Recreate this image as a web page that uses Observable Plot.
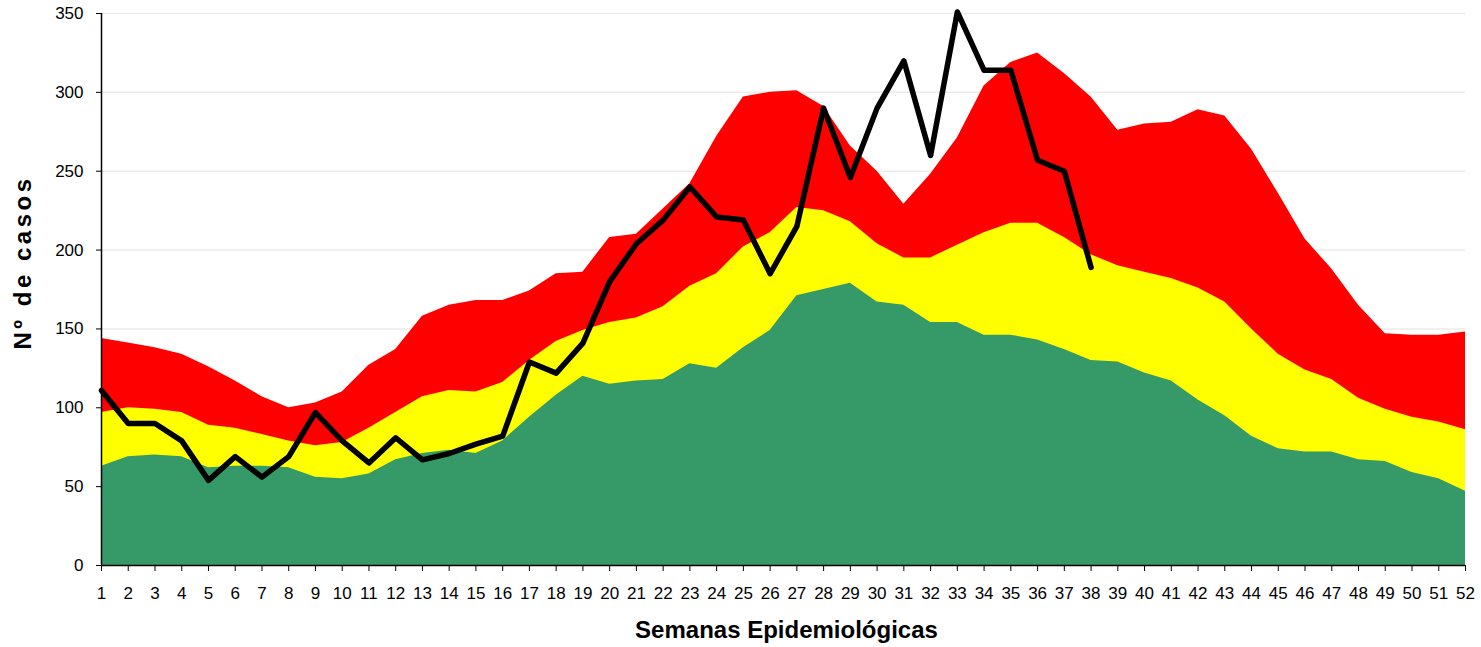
<!DOCTYPE html>
<html>
<head>
<meta charset="utf-8">
<script src="https://cdn.jsdelivr.net/npm/d3@7"></script>
<script src="https://cdn.jsdelivr.net/npm/@observablehq/plot@0.6"></script>
<style>
  html, body { margin: 0; padding: 0; background: #fff; }
  #chart { width: 1481px; height: 647px; }
</style>
</head>
<body>
<div id="chart"></div>
<script>
const semanas = d3.range(1, 53);
const zonaExito = [63,69,70,69,62,63,63,62,56,55,58,67,71,73,71,79,94,108,120,115,117,118,128,125,138,149,171,175,179,167,165,154,154,146,146,143,137,130,129,122,117,105,95,82,74,72,72,67,66,59,55,47];
const zonaSeguridad = [97,100,99,97,89,87,83,79,76,78,87,97,107,111,110,116,130,142,149,154,157,164,177,185,202,211,227,225,218,204,195,195,203,211,217,217,208,197,190,186,182,176,167,150,134,124,118,106,99,94,91,86];
const zonaAlerta = [144,141,138,134,126,117,107,100,103,110,127,137,158,165,168,168,174,185,186,208,210,226,242,272,297,300,301,291,266,250,229,248,271,304,319,325,312,297,276,280,281,289,285,264,236,207,188,165,147,146,146,148];
const casos = [111,90,90,79,54,69,56,69,97,79,65,81,67,71,77,82,129,122,141,180,204,219,240,221,219,185,215,290,246,290,320,260,351,314,314,257,250,189];
const yTicks = [0,50,100,150,200,250,300,350];

const canal = semanas.map((s, i) => ({semana: s, exito: zonaExito[i], seguridad: zonaSeguridad[i], alerta: zonaAlerta[i]}));
const actual = casos.map((c, i) => ({semana: semanas[i], casos: c}));

const font = "'Liberation Sans', Arial, sans-serif";

const chart = Plot.plot({
  width: 1481,
  height: 647,
  marginLeft: 101,
  marginRight: 16,
  marginTop: 13,
  marginBottom: 82,
  style: {fontFamily: font, fontSize: "17px", color: "#000", background: "#fff"},
  x: {domain: [1, 52], ticks: semanas},
  y: {domain: [0, 350], ticks: yTicks},
  marks: [
    Plot.gridY(yTicks.filter(d => d > 0), {stroke: "#ebebeb", strokeOpacity: 1, strokeWidth: 1.5}),
    Plot.areaY(canal, {x: "semana", y: "alerta", fill: "#ff0000"}),
    Plot.areaY(canal, {x: "semana", y: "seguridad", fill: "#ffff00"}),
    Plot.areaY(canal, {x: "semana", y: "exito", fill: "#359968"}),
    Plot.lineY(actual, {x: "semana", y: "casos", stroke: "#000", strokeWidth: 5.5, strokeLinejoin: "round", strokeLinecap: "round"}),
    Plot.ruleY([0], {stroke: "#000", strokeWidth: 1.5}),
    Plot.ruleX([1], {stroke: "#000", strokeWidth: 1.5}),
    Plot.axisX({ticks: semanas, tickSize: 6, tickPadding: 15, label: null, tickFormat: d => String(d), stroke: "#000"}),
    Plot.axisY({ticks: yTicks, tickSize: 5, tickPadding: 13, label: null, tickFormat: d => String(d), stroke: "#000"}),
    Plot.text(["Semanas Epidemiológicas"], {frameAnchor: "bottom", dx: 3, dy: 65, lineAnchor: "middle", textAnchor: "middle", fontSize: 24, fontWeight: "bold", fontFamily: font, fill: "#000"}),
    Plot.text(["Nº de casos"], {frameAnchor: "left", dx: -78, dy: -27, rotate: -90, textAnchor: "middle", lineAnchor: "middle", fontSize: 24, fontWeight: "bold", fontFamily: font, fill: "#000", className: "ylabel"})
  ]
});
document.getElementById("chart").appendChild(chart);
d3.select(chart).selectAll(".ylabel text").style("letter-spacing", "3.5px");
</script>
</body>
</html>
